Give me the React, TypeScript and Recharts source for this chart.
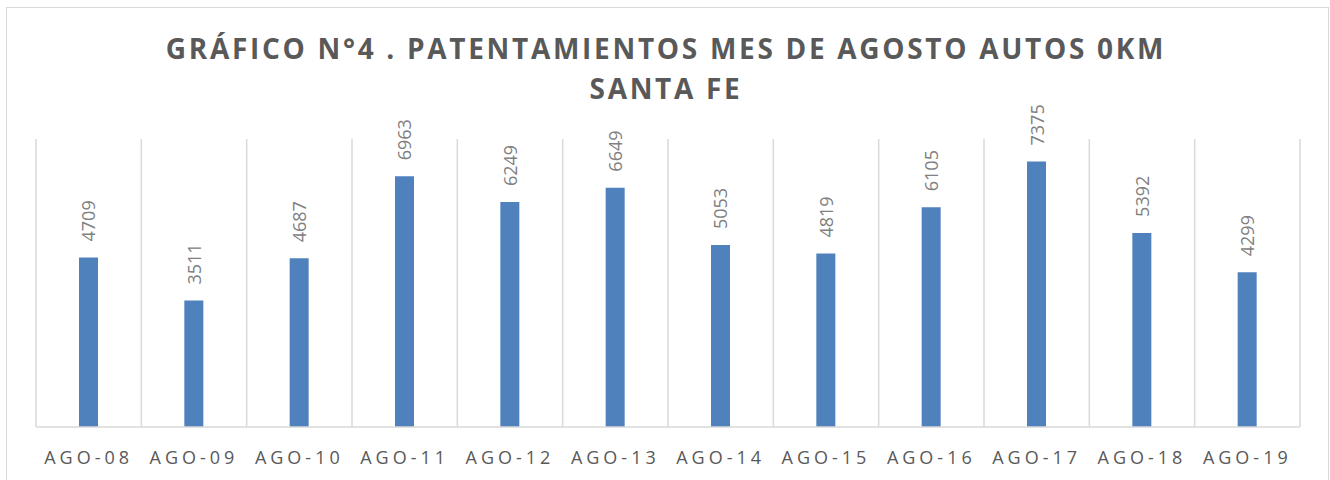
import { BarChart, Bar, XAxis, YAxis, CartesianGrid, LabelList } from 'recharts';

const categories = ['ago-08', 'ago-09', 'ago-10', 'ago-11', 'ago-12', 'ago-13', 'ago-14', 'ago-15', 'ago-16', 'ago-17', 'ago-18', 'ago-19'];
const patentamientos = [4709, 3511, 4687, 6963, 6249, 6649, 5053, 4819, 6105, 7375, 5392, 4299];
const yDomain = [0, 8000];

const data = categories.map((c, i) => ({ mes: c, valor: patentamientos[i] }));

const gray = '#595959';

const Tick = ({ x, y, payload }: any) => (
  <text x={x} y={y + 29} textAnchor="middle" fontSize={18} fill={gray} letterSpacing={4} fontFamily="Open Sans">
    {String(payload.value).toUpperCase()}
  </text>
);

const RotLabel = ({ x, y, width, value }: any) => {
  const cx = x + width / 2;
  const ty = y - 16;
  return (
    <text
      x={cx}
      y={ty}
      transform={`rotate(-90, ${cx}, ${ty})`}
      textAnchor="start"
      dominantBaseline="central"
      fontSize={18}
      fill="#808080"
      fontFamily="Open Sans"
    >
      {value}
    </text>
  );
};

export default function App() {
  return (
    <div style={{ position: 'absolute', left: 0, top: 0, width: 1330, height: 480, background: '#fff', overflow: 'hidden' }}>
      <div style={{ position: 'absolute', left: 6, top: 7, width: 1321, height: 480, border: '1px solid #d9d9d9' }} />
      <div
        style={{
          position: 'absolute',
          left: 0,
          width: 1332,
          top: 28,
          textAlign: 'center',
          fontFamily: 'Open Sans',
          fontWeight: 700,
          fontSize: 28,
          lineHeight: '40px',
          letterSpacing: 2.7,
          color: gray,
        }}
      >
        GRÁFICO N°4 . PATENTAMIENTOS MES DE AGOSTO AUTOS 0KM
        <br />
        SANTA FE
      </div>
      <div style={{ position: 'absolute', left: 0, top: 0 }}>
        <BarChart width={1330} height={480} data={data} margin={{ top: 139, right: 30, left: 36, bottom: 13 }}>
          <CartesianGrid
            horizontal={false}
            stroke="#d9d9d9"
            strokeWidth={1.5}
            verticalCoordinatesGenerator={({ offset }: any) =>
              categories.map((_, i) => offset.left + (offset.width * i) / categories.length).concat(offset.left + offset.width)
            }
          />
          <XAxis
            dataKey="mes"
            height={40}
            tickLine={false}
            axisLine={{ stroke: '#d9d9d9', strokeWidth: 1.5 }}
            tick={<Tick />}
            interval={0}
          />
          <YAxis hide domain={yDomain} />
          <Bar dataKey="valor" fill="#4f81bd" barSize={19} isAnimationActive={false}>
            <LabelList dataKey="valor" content={<RotLabel />} />
          </Bar>
        </BarChart>
      </div>
    </div>
  );
}
